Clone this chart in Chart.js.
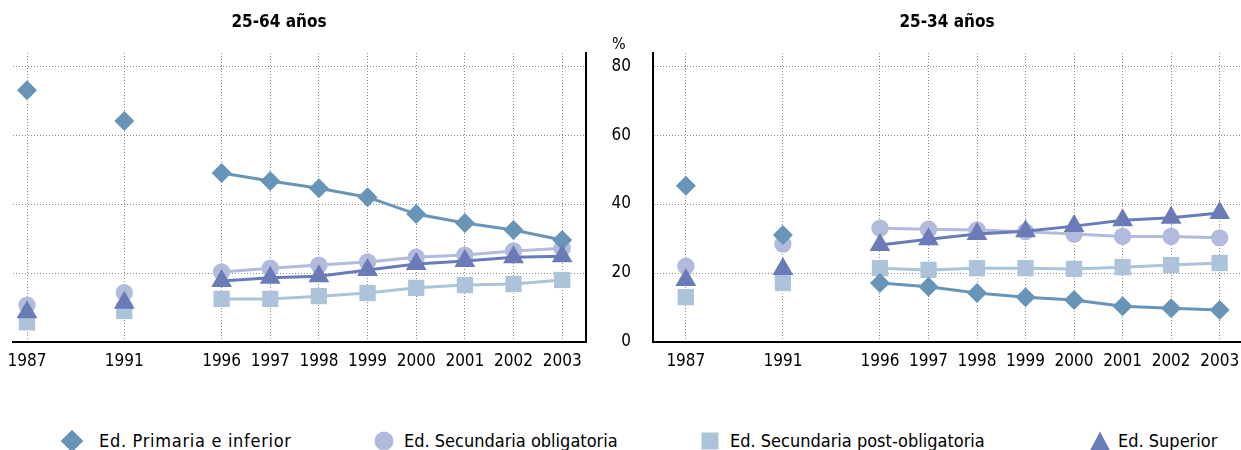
<!DOCTYPE html>
<html><head><meta charset="utf-8">
<script src="https://cdn.jsdelivr.net/npm/chart.js@4.4.1/dist/chart.umd.min.js"></script>
<style>
html,body{margin:0;padding:0;background:#fff;}
body{width:1241px;height:450px;position:relative;overflow:hidden;font-family:'Liberation Sans Narrow','DejaVu Sans Condensed',sans-serif;color:#000;}
canvas{position:absolute;top:0;}
#c1{left:0;} #c2{left:600px;}
.title{position:absolute;top:11px;font-weight:bold;font-size:17px;transform:translateX(-50%);white-space:nowrap;}
.pct{position:absolute;left:612px;top:34px;font-size:16px;}
.legend{position:absolute;top:429px;font-size:18px;white-space:nowrap;height:24px;line-height:24px;}
</style></head>
<body>
<canvas id="c1" width="600" height="400"></canvas>
<canvas id="c2" width="641" height="400"></canvas>
<div class="title" style="left:279px">25-64 años</div>
<div class="title" style="left:947px">25-34 años</div>
<div class="pct">%</div>
<div id="legend"></div>
<script>
const categories = ['1987','','1991','','1996','1997','1998','1999','2000','2001','2002','2003'];
const seriesNames = ['Ed. Primaria e inferior','Ed. Secundaria obligatoria','Ed. Secundaria post-obligatoria','Ed. Superior'];
const yTicks = [0,20,40,60,80];

// 25-64 años
const primaria2564 = [73.0,null,64.1,null,49.0,46.7,44.6,42.0,37.1,34.5,32.5,29.6];
const secObl2564   = [10.7,null,14.3,null,20.3,21.4,22.3,23.2,24.6,25.2,26.4,27.2];
const secPost2564  = [5.7,null,9.0,null,12.5,12.5,13.3,14.2,15.7,16.5,16.8,18.0];
const superior2564 = [8.6,null,11.4,null,17.7,18.6,19.1,20.9,22.6,23.5,24.6,24.9];

// 25-34 años
const primaria2534 = [45.3,null,31.0,null,17.1,16.0,14.2,13.0,12.2,10.4,9.8,9.3];
const secObl2534   = [22.0,null,28.4,null,33.0,32.7,32.5,32.0,31.3,30.6,30.6,30.2];
const secPost2534  = [13.0,null,17.1,null,21.4,20.9,21.4,21.4,21.2,21.7,22.3,22.9];
const superior2534 = [18.0,null,21.2,null,28.1,29.8,31.3,32.1,33.6,35.3,36.0,37.4];

const colors = ['#6895b7','#b3bbdc','#adc3da','#6a7bb8'];
const styles = ['rectRot','circle','rect','triangle'];
const radii = [10,8.7,11.5,12];
const orders = [1,3,2,0];

const FONT = "'Liberation Sans Narrow','DejaVu Sans Condensed',sans-serif";
Chart.defaults.font.family = FONT;
Chart.defaults.color = '#000';

function mkDatasets(arrs){
  return arrs.map((a,i)=>({
    label: seriesNames[i],
    data: a.map((v,k)=>({x:k, y:v})),
    borderColor: colors[i], backgroundColor: colors[i],
    pointBackgroundColor: colors[i], pointBorderWidth: 0,
    pointStyle: styles[i], pointRadius: radii[i], pointHoverRadius: radii[i],
    borderWidth: 3, tension: 0, spanGaps: false, order: orders[i], clip: false
  }));
}

function makeChart(id, arrs, opts){
  const xScale = {
    type:'linear', min: opts.xmin, max: opts.xmax,
    afterBuildTicks: s => { s.ticks = categories.map((c,i)=>c?{value:i}:null).filter(Boolean); },
    afterFit: s => { s.height = 58; s.paddingLeft = 0; s.paddingRight = 0; },
    ticks:{ callback: v => categories[v] || '', font:{size:17}, padding: 9, autoSkip:false, maxRotation:0 },
    grid:{ color:'#8a8a8a', lineWidth:1, drawTicks:false },
    border:{ display:true, color:'#000', width:2, dash:[1,2] }
  };
  const yScale = {
    type:'linear', min:0, max:83.8, position: opts.ypos,
    afterBuildTicks: s => { s.ticks = yTicks.map(v=>({value:v})); },
    afterFit: s => { s.width = opts.ywidth; s.paddingTop = 0; s.paddingBottom = 0; },
    ticks:{ display: opts.ylabels, font:{size:17}, padding: 22 },
    grid:{ color: ctx => ctx.tick && ctx.tick.value===0 ? 'rgba(0,0,0,0)' : '#8a8a8a', lineWidth:1, drawTicks:false },
    border:{ display:true, color:'#000', width:2, dash:[1,2] }
  };
  return new Chart(document.getElementById(id), {
    type:'line',
    data:{ datasets: mkDatasets(arrs) },
    options:{
      responsive:false, animation:false, devicePixelRatio:1,
      layout:{ autoPadding:false, padding:{ top:53, left: opts.padL, right: opts.padR, bottom:0 } },
      plugins:{ legend:{display:false}, tooltip:{enabled:false}, title:{display:false} },
      scales:{ x:xScale, y:yScale }
    }
  });
}

makeChart('c1', [primaria2564,secObl2564,secPost2564,superior2564],
  { xmin:-0.288, xmax:11.49, ypos:'right', ywidth:0, ylabels:false, padL:13, padR:14 });
makeChart('c2', [primaria2534,secObl2534,secPost2534,superior2534],
  { xmin:-0.677, xmax:11.44, ypos:'left', ywidth:53, ylabels:true, padL:0, padR:0 });

// HTML legend built from the series names
const legendPos = [[72,99],[384,404],[710,730],[1100,1118]];
const lg = document.getElementById('legend');
seriesNames.forEach((n,i)=>{
  const d = document.createElement('div');
  d.className='legend'; d.style.left = legendPos[i][1]+'px'; d.textContent = n;
  if(i===0) d.style.letterSpacing='0.7px';
  lg.appendChild(d);
  const m = document.createElement('div');
  m.style.position='absolute'; m.style.left=legendPos[i][0]+'px'; m.style.top='441px';
  m.style.transform='translate(-50%,-50%)';
  const c = colors[i];
  if(i===0){ m.style.width='16px'; m.style.height='16px'; m.style.background=c; m.style.transform='translate(-50%,-50%) rotate(45deg)'; }
  if(i===1){ m.style.width='19px'; m.style.height='19px'; m.style.background=c; m.style.borderRadius='50%'; }
  if(i===2){ m.style.width='17px'; m.style.height='17px'; m.style.background=c; }
  if(i===3){ m.style.width='0'; m.style.height='0'; m.style.borderLeft='10px solid transparent'; m.style.borderRight='10px solid transparent'; m.style.borderBottom='19px solid '+c; }
  lg.appendChild(m);
});
</script>
</body></html>
